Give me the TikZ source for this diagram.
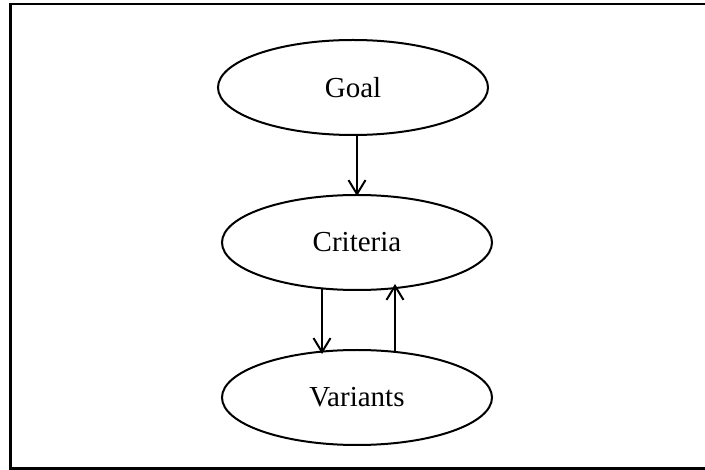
\documentclass[tikz,border=0pt]{standalone}
\usepackage{fontspec}
\setmainfont{Liberation Serif}
\usetikzlibrary{shapes.geometric,arrows.meta}
\begin{document}
\begin{tikzpicture}[x=1pt,y=-1pt,
  oval/.style={ellipse,draw,line width=2pt,minimum width=270pt,minimum height=95pt,
    inner sep=0pt,font=\fontsize{29}{34}\selectfont},
  arr/.style={-{Straight Barb[length=14pt,width=17pt,line width=2pt]},line width=2pt}]
 \useasboundingbox (0,0) rectangle (705,470);
 \draw[line width=2.4pt] (10.5,4) rectangle (712,468.5);
 \node[oval] (goal) at (353,87.5) {Goal};
 \node[oval] (crit) at (357,242.5) {Criteria};
 \node[oval] (var) at (357,397.5) {Variants};
 \draw[arr] (goal.south -| crit.north) -- ([yshift=-2pt]crit.north);
 \draw[arr] ([xshift=-35pt,yshift=3pt]crit.south) -- ([xshift=-35pt,yshift=-5pt]var.north);
 \draw[arr] ([xshift=38pt,yshift=-2pt]var.north) -- ([xshift=38pt,yshift=7pt]crit.south);
\end{tikzpicture}
\end{document}
